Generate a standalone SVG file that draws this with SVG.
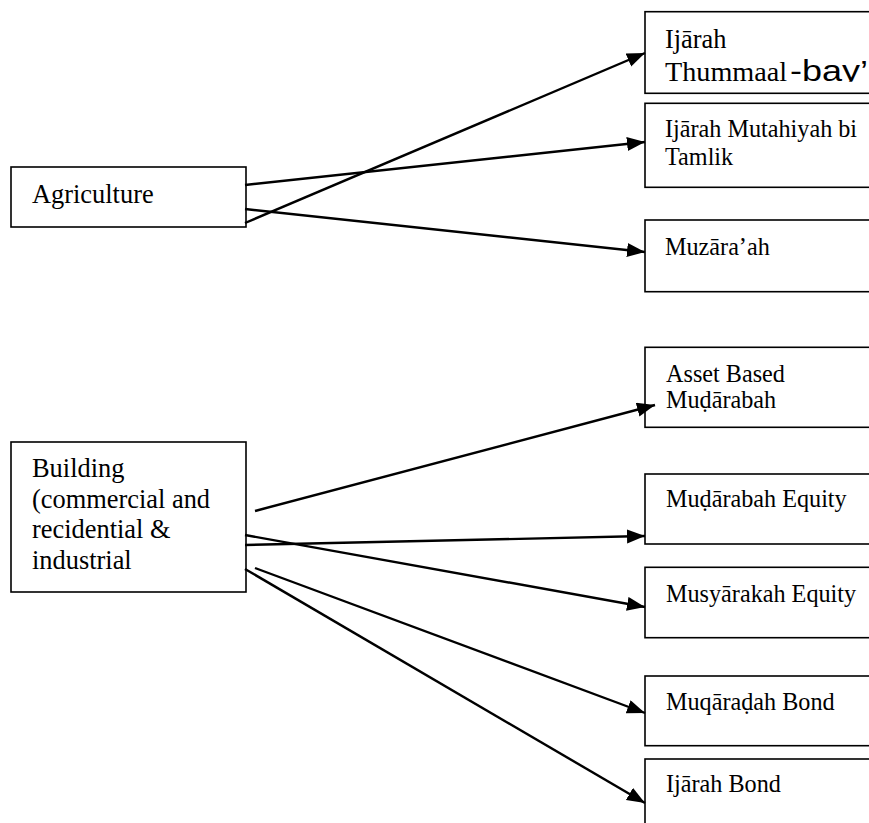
<svg xmlns="http://www.w3.org/2000/svg" width="869" height="823" viewBox="0 0 869 823">
<style>
.box{fill:#fff;stroke:#000;stroke-width:1.6}
.t{font-family:"Liberation Serif","Times New Roman",serif;fill:#000}
.big{font-size:26.4px}
.sm{font-size:24.2px}
.conn line{stroke:#000;stroke-width:2.4;marker-end:url(#ah)}
</style>
<defs>
<marker id="ah" markerUnits="userSpaceOnUse" markerWidth="19" markerHeight="15" refX="18" refY="7" orient="auto">
<path d="M0,0 L18,7 L0,14 z" fill="#000"/>
</marker>
<clipPath id="c1"><rect x="645" y="11.7" width="230" height="70"/></clipPath>
</defs>
<rect width="869" height="823" fill="#fff"/>
<g id="agriculture">
<rect class="box" x="11" y="167" width="235" height="60"/>
<text class="t big" x="32" y="203">Agriculture</text>
</g>
<g id="building">
<rect class="box" x="11" y="442" width="235" height="150"/>
<text class="t big"><tspan x="32" y="477">Building</tspan><tspan x="32" y="507.5">(commercial and</tspan><tspan x="32" y="538">recidential &amp;</tspan><tspan x="32" y="568.5">industrial</tspan></text>
</g>
<g id="ijarah-thummaal">
<rect class="box" x="645" y="11.7" width="232" height="81.6"/>
<text class="t big" clip-path="url(#c1)"><tspan x="665" y="48">Ijārah</tspan><tspan x="665" y="81" font-size="28.2">Thummaal</tspan><tspan x="790" y="81" font-family="Liberation Sans, Arial, sans-serif" font-size="29" textLength="78" lengthAdjust="spacingAndGlyphs">-bay’</tspan></text>
</g>
<g id="ijarah-mutahiyah">
<rect class="box" x="645" y="103.3" width="232" height="84"/>
<text class="t sm"><tspan x="665" y="137">Ijārah Mutahiyah bi</tspan><tspan x="665" y="165">Tamlik</tspan></text>
</g>
<g id="muzaraah">
<rect class="box" x="645" y="220" width="232" height="71.7"/>
<text class="t sm" x="665" y="255">Muzāra’ah</text>
</g>
<g id="asset-mudarabah">
<rect class="box" x="645" y="347.3" width="232" height="80"/>
<text class="t sm"><tspan x="666" y="381.5">Asset Based</tspan><tspan x="666" y="407.5">Muḍārabah</tspan></text>
</g>
<g id="mudarabah-equity">
<rect class="box" x="645" y="474" width="232" height="70"/>
<text class="t sm" x="666" y="507">Muḍārabah Equity</text>
</g>
<g id="musyarakah-equity">
<rect class="box" x="645" y="567.3" width="232" height="70.4"/>
<text class="t sm" x="666" y="602">Musyārakah Equity</text>
</g>
<g id="muqaradah-bond">
<rect class="box" x="645" y="676" width="232" height="69.7"/>
<text class="t sm" x="666" y="709.5">Muqāraḍah Bond</text>
</g>
<g id="ijarah-bond">
<rect class="box" x="645" y="759" width="232" height="80"/>
<text class="t sm" x="666" y="792">Ijārah Bond</text>
</g>
<g id="connectors" class="conn">
<line x1="245" y1="223" x2="645" y2="53"/>
<line x1="245" y1="185" x2="645" y2="142"/>
<line x1="245" y1="209" x2="645" y2="252"/>
<line x1="255" y1="511" x2="655" y2="405"/>
<line x1="245" y1="545" x2="645" y2="536"/>
<line x1="245" y1="535" x2="645" y2="607"/>
<line x1="255" y1="568" x2="645" y2="713"/>
<line x1="245" y1="569" x2="645" y2="803"/>
</g>
</svg>
